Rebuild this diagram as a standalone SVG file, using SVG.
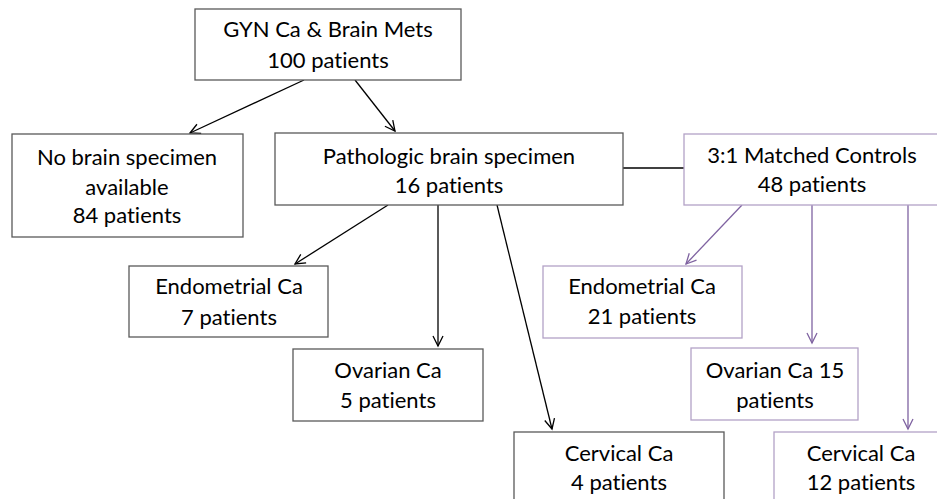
<svg xmlns="http://www.w3.org/2000/svg" width="937" height="499" viewBox="0 0 937 499">
<style>
text{font-family:Lato,"Liberation Sans",sans-serif;font-size:22px;fill:#000;text-anchor:middle;font-variant-ligatures:none;font-feature-settings:"liga" 0}
.bk{fill:#fff;stroke:#595959;stroke-width:1.3}
.pu{fill:#fff;stroke:#b3a2c7;stroke-width:1.3}
.cb{stroke:#000;stroke-width:1.3;fill:none}
.cp{stroke:#7f63a1;stroke-width:1.3;fill:none}
</style>
<defs>
<marker id="ab" markerWidth="14" markerHeight="14" refX="12" refY="7" orient="auto" markerUnits="userSpaceOnUse">
<path d="M2,2 L12,7 L2,12" fill="none" stroke="#000" stroke-width="1.3"/>
</marker>
<marker id="ap" markerWidth="14" markerHeight="14" refX="12" refY="7" orient="auto" markerUnits="userSpaceOnUse">
<path d="M2,2 L12,7 L2,12" fill="none" stroke="#7f63a1" stroke-width="1.3"/>
</marker>
</defs>
<g id="connectors">
<line class="cb" x1="304" y1="80" x2="190" y2="133" marker-end="url(#ab)"/>
<line class="cb" x1="355" y1="80" x2="395" y2="131" marker-end="url(#ab)"/>
<line class="cb" x1="623" y1="168" x2="684" y2="168"/>
<line class="cb" x1="388" y1="205" x2="295" y2="264" marker-end="url(#ab)"/>
<line class="cb" x1="438" y1="205" x2="438" y2="346" marker-end="url(#ab)"/>
<line class="cb" x1="497" y1="205" x2="552" y2="429" marker-end="url(#ab)"/>
<line class="cp" x1="742" y1="205" x2="686" y2="264" marker-end="url(#ap)"/>
<line class="cp" x1="812" y1="205" x2="812" y2="343" marker-end="url(#ap)"/>
<line class="cp" x1="908" y1="205" x2="908" y2="429" marker-end="url(#ap)"/>
</g>
<g id="top">
<rect class="bk" x="195" y="9" width="266" height="71"/>
<text x="328" y="37">GYN Ca &amp; Brain Mets</text>
<text x="328" y="68">100 patients</text>
</g>
<g id="nobrain">
<rect class="bk" x="12" y="134" width="231" height="103"/>
<text x="127" y="165">No brain specimen</text>
<text x="127" y="195">available</text>
<text x="127" y="223">84 patients</text>
</g>
<g id="patho">
<rect class="bk" x="275" y="133" width="348" height="72"/>
<text x="449" y="164">Pathologic brain specimen</text>
<text x="449" y="193">16 patients</text>
</g>
<g id="controls">
<rect class="pu" x="684" y="134" width="256" height="71"/>
<text x="812" y="163">3:1 Matched Controls</text>
<text x="812" y="192">48 patients</text>
</g>
<g id="endo">
<rect class="bk" x="129" y="266" width="199" height="71"/>
<text x="229" y="294">Endometrial Ca</text>
<text x="229" y="325">7 patients</text>
</g>
<g id="ovar">
<rect class="bk" x="293" y="349" width="190" height="72"/>
<text x="388" y="378">Ovarian Ca</text>
<text x="388" y="408">5 patients</text>
</g>
<g id="cerv">
<rect class="bk" x="514" y="432" width="210" height="80"/>
<text x="619" y="461">Cervical Ca</text>
<text x="619" y="490">4 patients</text>
</g>
<g id="endo2">
<rect class="pu" x="543" y="266" width="199" height="72"/>
<text x="642" y="294">Endometrial Ca</text>
<text x="642" y="324">21 patients</text>
</g>
<g id="ovar2">
<rect class="pu" x="691" y="348" width="167" height="72"/>
<text x="775" y="378">Ovarian Ca 15</text>
<text x="775" y="408">patients</text>
</g>
<g id="cerv2">
<rect class="pu" x="774" y="432" width="174" height="80"/>
<text x="861" y="461">Cervical Ca</text>
<text x="861" y="490">12 patients</text>
</g>
</svg>
